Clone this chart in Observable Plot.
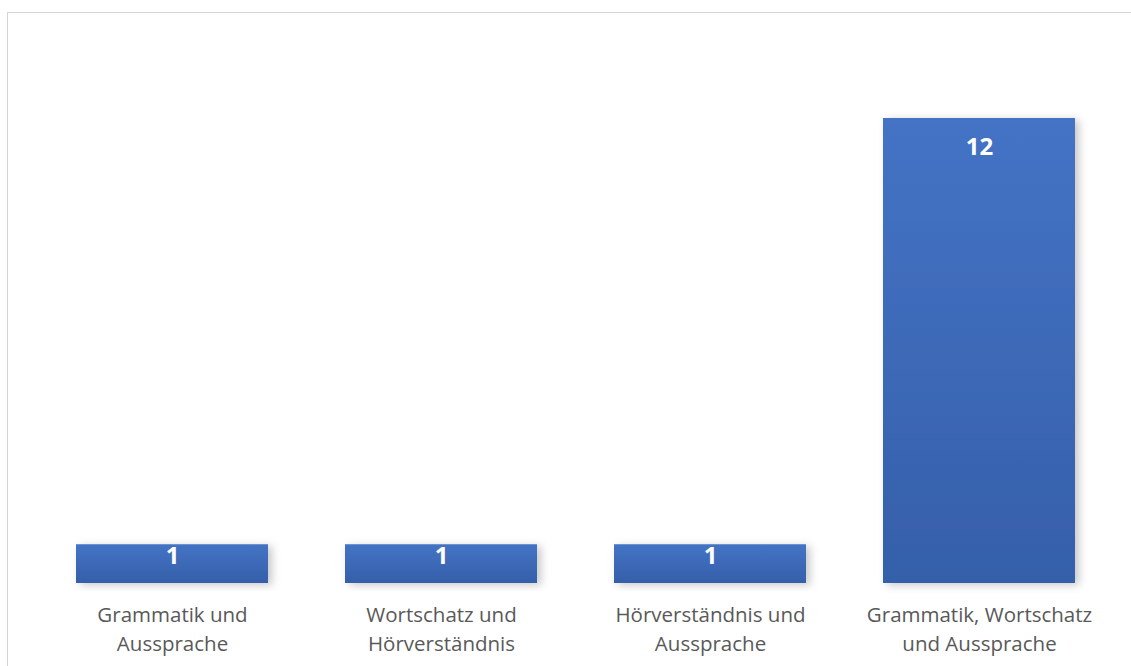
<!DOCTYPE html>
<html>
<head>
<meta charset="utf-8">
<script src="https://cdn.jsdelivr.net/npm/d3@7"></script>
<script src="https://cdn.jsdelivr.net/npm/@observablehq/plot@0.6"></script>
<style>
  html, body { margin: 0; padding: 0; background: #fff; }
  #wrap { position: relative; width: 1131px; height: 666px; overflow: hidden; }
  #frame { position: absolute; left: 7px; top: 12px; width: 1300px; height: 900px;
           border-left: 1px solid #d4d4d4; border-top: 1px solid #d4d4d4; pointer-events: none; }
  #chart svg { display: block; }
</style>
</head>
<body>
<div id="wrap">
  <div id="chart"></div>
  <div id="frame"></div>
</div>
<script>
const categories = [
  "Grammatik und\nAussprache",
  "Wortschatz und\nHörverständnis",
  "Hörverständnis und\nAussprache",
  "Grammatik, Wortschatz\nund Aussprache"
];
const values = [1, 1, 1, 12];
const yDomain = [0, 14];

const data = categories.map((c, i) => ({category: c, value: values[i]}));

const chart = Plot.plot({
  width: 1131,
  height: 666,
  marginLeft: 38,
  marginRight: 17,
  marginTop: 40.5,
  marginBottom: 83,
  style: {fontFamily: "'Open Sans', sans-serif", background: "transparent"},
  x: {domain: categories, paddingInner: 0.286, paddingOuter: 0.143, label: null},
  y: {domain: yDomain, axis: null},
  marks: [
    Plot.barY(data, {x: "category", y: "value", fill: "url(#barGrad)", className: "bars"}),
    Plot.text(data, {
      x: "category",
      y: d => d.value - Math.min(0.75, d.value * 0.3),
      text: d => String(d.value),
      fill: "white",
      fontWeight: "bold",
      fontSize: 24
    }),
    Plot.axisX({tickSize: 0, tickPadding: 19, fontSize: 20.5, color: "#595959", lineHeight: 1.37})
  ]
});

const svg = d3.select(chart);
const defs = svg.insert("defs", ":first-child");
const grad = defs.append("linearGradient")
  .attr("id", "barGrad").attr("x1", 0).attr("y1", 0).attr("x2", 0).attr("y2", 1);
grad.append("stop").attr("offset", "0%").attr("stop-color", "#4473C5");
grad.append("stop").attr("offset", "100%").attr("stop-color", "#355FA9");
const filt = defs.append("filter").attr("id", "barShadow")
  .attr("x", "-20%").attr("y", "-20%").attr("width", "140%").attr("height", "140%");
filt.append("feDropShadow").attr("dx", 4).attr("dy", 2).attr("stdDeviation", 4)
  .attr("flood-color", "#000").attr("flood-opacity", 0.22);
svg.selectAll("g.bars rect").attr("filter", "url(#barShadow)");

document.getElementById("chart").appendChild(chart);
</script>
</body>
</html>
